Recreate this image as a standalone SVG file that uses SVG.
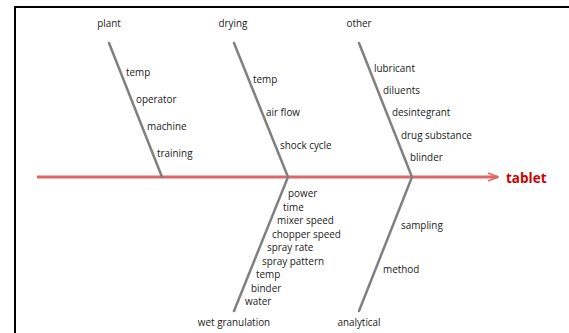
<svg xmlns="http://www.w3.org/2000/svg" width="569" height="333" viewBox="0 0 569 333">
  <style>
    .frame { stroke: #000; stroke-width: 2; fill: none; }
    .spine { stroke: #e06666; stroke-width: 3; fill: none; }
    .bone { stroke: #808080; stroke-width: 2.5; fill: none; stroke-linecap: round; }
    text { font-family: "Open Sans", "Noto Sans", "DejaVu Sans", sans-serif; font-size: 9.9px; fill: #1a1a1a; }
    .cat { text-anchor: middle; }
    .effect { font-size: 13.5px; font-weight: bold; fill: #cc0000; }
  </style>
  <defs>
    <marker id="head" viewBox="0 0 12 10" refX="11" refY="5" markerWidth="12" markerHeight="10" markerUnits="userSpaceOnUse" orient="auto">
      <path d="M1,1 L11,5 L1,9" fill="none" stroke="#e06666" stroke-width="1.6"/>
    </marker>
  </defs>

  <!-- page frame -->
  <path class="frame" d="M15,333 V7 H569"/>

  <g id="connectors">
    <line class="spine" x1="37" y1="177" x2="498" y2="177" marker-end="url(#head)"/>
    <line class="bone" x1="109" y1="43" x2="162" y2="177"/>
    <polyline class="bone" points="234,43 288,177 234,311"/>
    <polyline class="bone" points="359,43 412,177 359,311"/>
  </g>

  <g id="effect">
    <text class="effect" x="506" y="183">tablet</text>
  </g>

  <g id="plant">
    <text class="cat" x="109" y="27">plant</text>
    <text x="126" y="76">temp</text>
    <text x="136" y="103">operator</text>
    <text x="147" y="130">machine</text>
    <text x="157" y="157">training</text>
  </g>

  <g id="drying">
    <text class="cat" x="233" y="27">drying</text>
    <text x="253" y="83">temp</text>
    <text x="266" y="116">air flow</text>
    <text x="280" y="149">shock cycle</text>
  </g>

  <g id="other">
    <text class="cat" x="359" y="27">other</text>
    <text x="374" y="72">lubricant</text>
    <text x="383" y="94">diluents</text>
    <text x="392" y="116">desintegrant</text>
    <text x="401" y="139">drug substance</text>
    <text x="410" y="161">blinder</text>
  </g>

  <g id="wet-granulation">
    <text class="cat" x="234" y="326">wet granulation</text>
    <text x="288" y="197">power</text>
    <text x="283" y="210.5">time</text>
    <text x="277" y="224">mixer speed</text>
    <text x="272" y="237.5">chopper speed</text>
    <text x="267" y="251">spray rate</text>
    <text x="262" y="264.5">spray pattern</text>
    <text x="256" y="278">temp</text>
    <text x="251" y="291.5">binder</text>
    <text x="245" y="305">water</text>
  </g>

  <g id="analytical">
    <text class="cat" x="359" y="326">analytical</text>
    <text x="401" y="229">sampling</text>
    <text x="383" y="273">method</text>
  </g>
</svg>
